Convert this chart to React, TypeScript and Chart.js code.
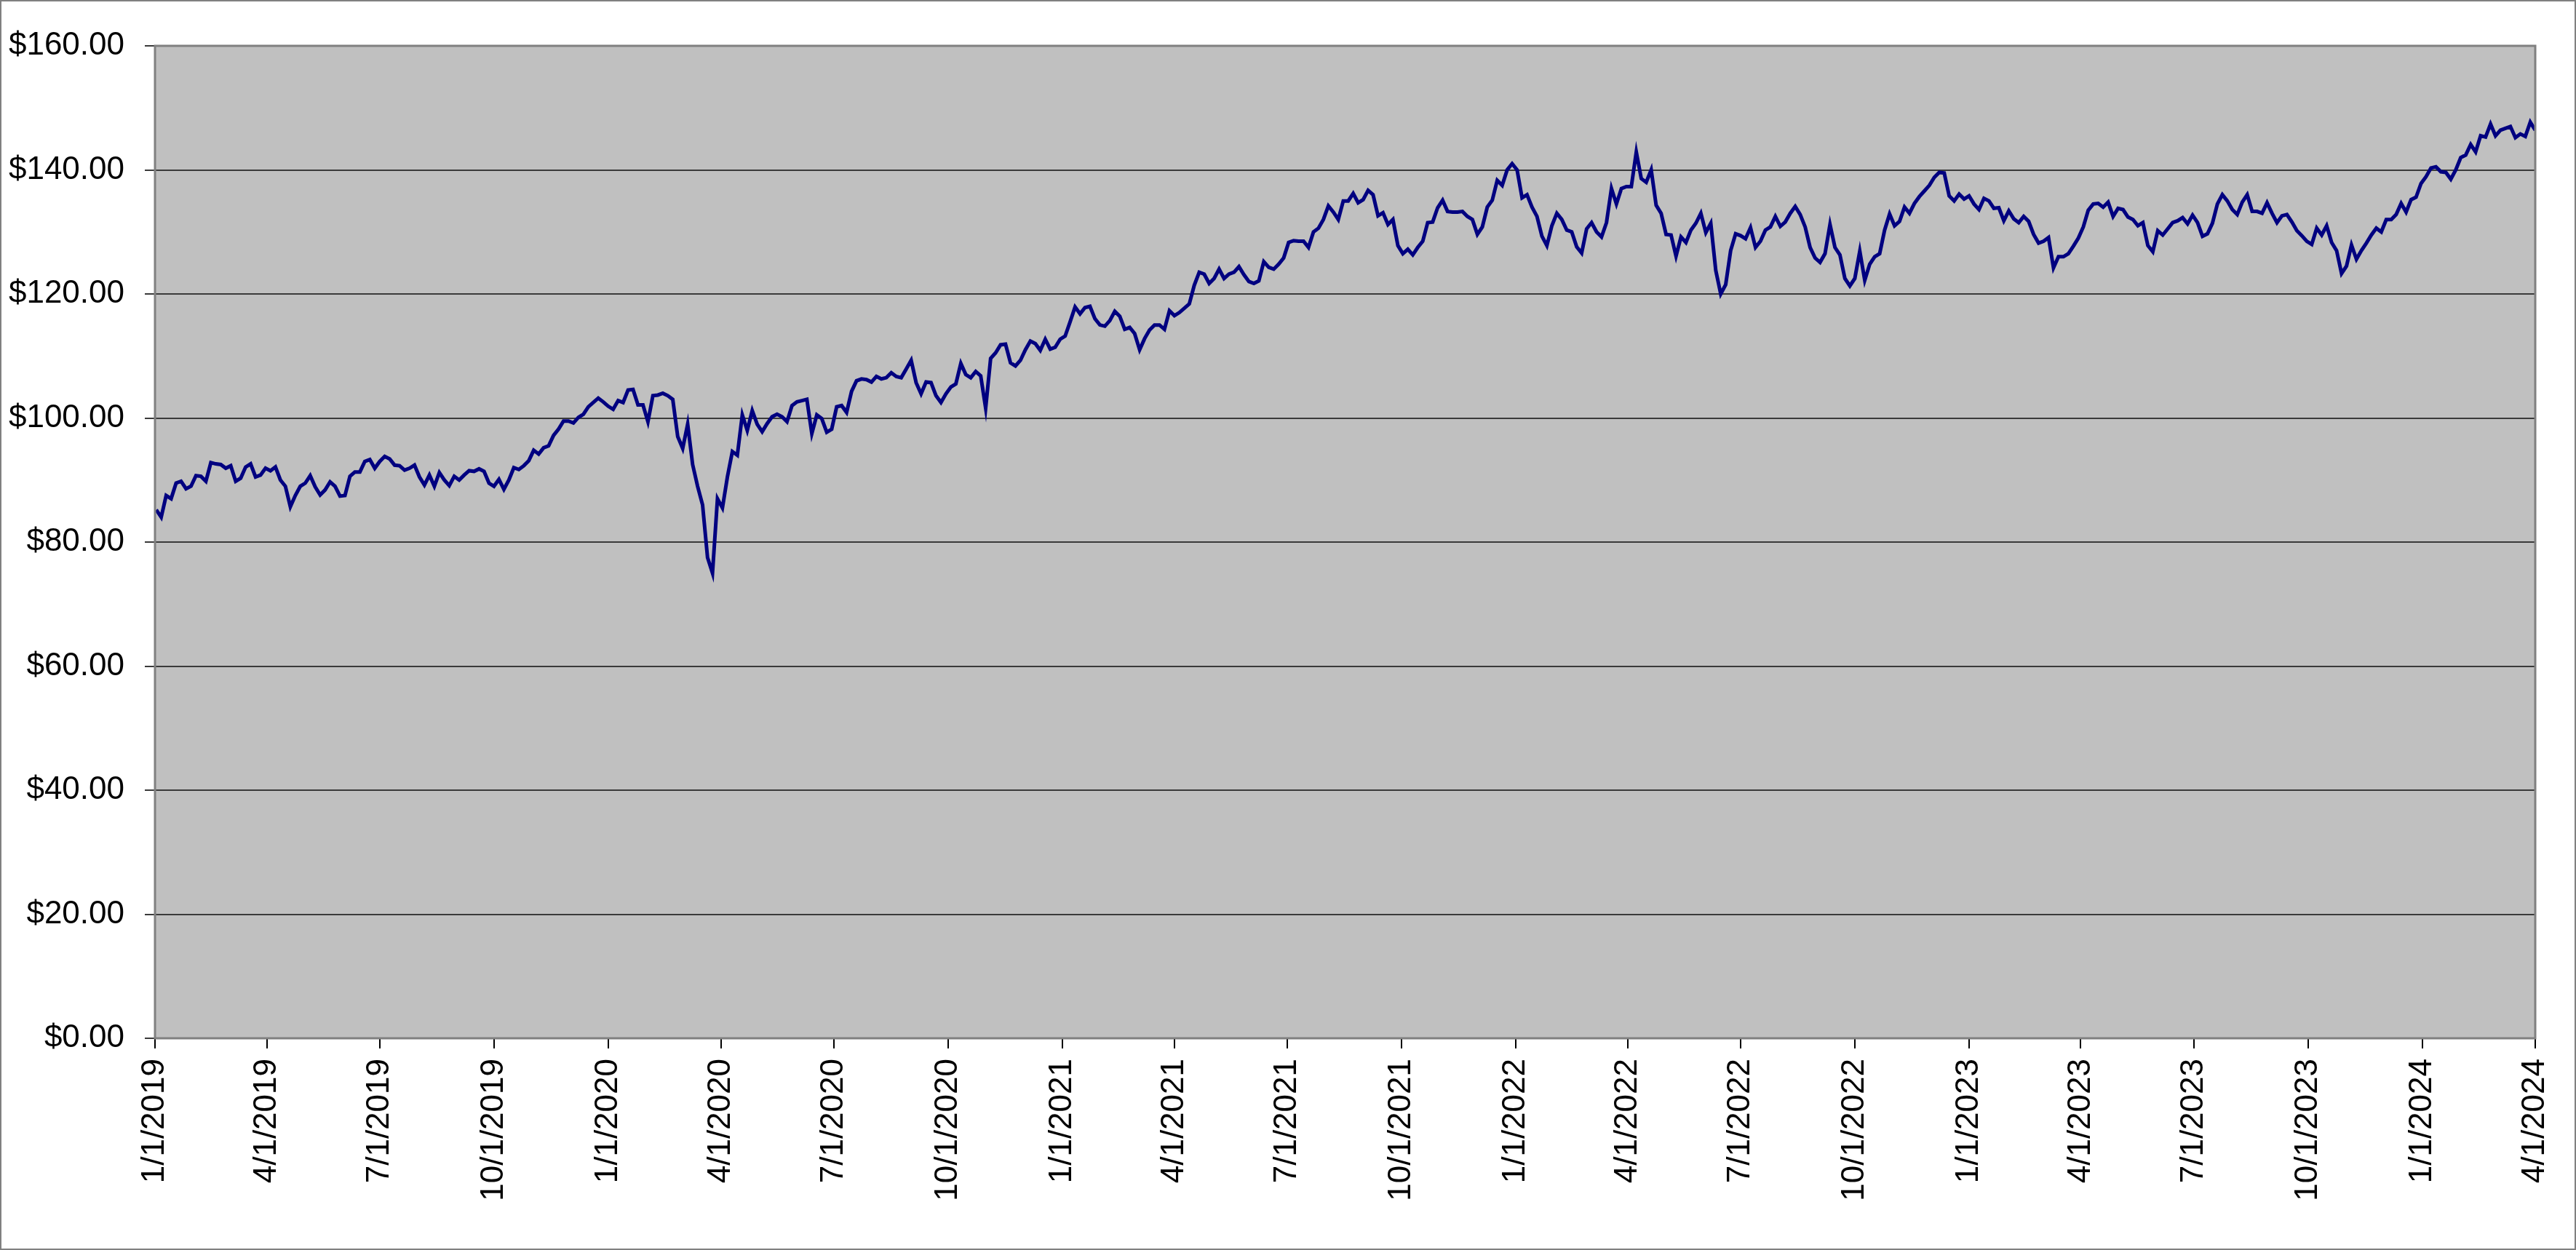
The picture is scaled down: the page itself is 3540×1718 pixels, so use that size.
import { useEffect, useRef } from "react";
import { Chart, registerables, type Plugin } from "chart.js";

Chart.register(...registerables);

// quarterly axis labels (date axis, 1/1/2019 .. 4/1/2024)
const quarterLabels = [
  "1/1/2019", "4/1/2019", "7/1/2019", "10/1/2019",
  "1/1/2020", "4/1/2020", "7/1/2020", "10/1/2020",
  "1/1/2021", "4/1/2021", "7/1/2021", "10/1/2021",
  "1/1/2022", "4/1/2022", "7/1/2022", "10/1/2022",
  "1/1/2023", "4/1/2023", "7/1/2023", "10/1/2023",
  "1/1/2024", "4/1/2024",
];

const yTicks = [0, 20, 40, 60, 80, 100, 120, 140, 160];

// closing prices, first sample 1/2/2019, one every 4 days
const firstSample = "1/2/2019";
const stepDays = 4;

const prices2019 = [
  85.2, 84, 87.5, 87, 89.5, 89.8, 88.6, 89, 90.7, 90.6,
  89.8, 92.8, 92.6, 92.5, 91.9, 92.3, 89.8, 90.3, 92.1, 92.6,
  90.5, 90.8, 91.9, 91.5, 92.1, 90, 89, 85.7, 87.5, 89,
  89.5, 90.7, 88.9, 87.6, 88.4, 89.7, 89, 87.4, 87.5, 90.6,
  91.3, 91.3, 93, 93.3, 91.9, 93, 93.8, 93.4, 92.4, 92.3,
  91.6, 91.9, 92.4, 90.5, 89.2, 90.8, 89, 91.2, 90, 89.1,
  90.6, 90, 90.8, 91.5, 91.4, 91.8, 91.4, 89.5, 89, 90.1,
  88.5, 90, 92, 91.7, 92.3, 93.1, 94.8, 94.2, 95.2, 95.5,
  97.2, 98.2, 99.5, 99.5, 99.2, 100.1, 100.6, 101.8, 102.5, 103.2,
  102.6,
];
const prices2020 = [
  101.9, 101.4, 102.8, 102.5, 104.5, 104.6, 102.1, 102.1, 99.4,
  103.6, 103.7, 104, 103.6, 103, 97, 95.1, 99, 92.5, 89,
  86, 77.5, 75, 87, 85.5, 90.5, 94.6, 94, 100.5, 98,
  101.2, 99, 97.8, 99.1, 100.2, 100.6, 100.2, 99.4, 102, 102.6,
  102.8, 103, 97.5, 100.5, 99.9, 97.7, 98.2, 101.8, 102, 100.9,
  104.3, 106, 106.3, 106.2, 105.8, 106.7, 106.3, 106.5, 107.3, 106.7,
  106.5, 107.9, 109.3, 105.7, 103.9, 105.8, 105.7, 103.6, 102.5, 103.9,
  105, 105.5, 108.8, 107, 106.5, 107.5, 106.8, 101.6, 109.6, 110.5,
  111.8, 111.9, 108.9, 108.4, 109.3, 111, 112.4, 112, 110.9, 112.7,
  111.1, 111.4, 112.7,
];
const prices2021 = [
  113.2, 115.5, 117.9, 116.8, 117.8, 118, 116, 115, 114.8, 115.7,
  117.2, 116.4, 114.3, 114.6, 113.6, 111, 112.8, 114.2, 115, 115,
  114.3, 117.3, 116.5, 117, 117.7, 118.4, 121.4, 123.5, 123.2, 121.7,
  122.5, 124, 122.5, 123.2, 123.5, 124.4, 123.1, 122, 121.7, 122.1,
  125.2, 124.3, 124, 124.8, 125.8, 128.3, 128.6, 128.5, 128.5, 127.5,
  130, 130.6, 132, 134.2, 133.2, 132, 135, 135, 136.2, 134.7,
  135.2, 136.7, 136, 132.6, 133.1, 131.2, 132, 127.8, 126.5, 127.2,
  126.3, 127.5, 128.5, 131.5, 131.6, 133.9, 135.1, 133.3, 133.2, 133.2,
  133.3, 132.5, 132, 129.6, 130.8, 134, 135.1, 138.3, 137.5, 140,
  141,
];
const prices2022 = [
  140, 135.5, 136, 134, 132.5, 129.3, 127.8, 131, 133, 132,
  130.3, 130, 127.6, 126.6, 130.5, 131.5, 130, 129.2, 131.5, 137,
  134.5, 137, 137.3, 137.3, 142.9, 138.6, 138, 140, 134.3, 133,
  129.6, 129.5, 126.1, 129.2, 128.3, 130.3, 131.4, 133, 129.9, 131.4,
  123.8, 120, 121.5, 127, 129.7, 129.4, 128.9, 130.7, 127.5, 128.5,
  130.3, 130.8, 132.5, 130.9, 131.6, 133, 134.1, 132.8, 130.8, 127.5,
  125.8, 125.1, 126.5, 131.2, 127.5, 126.3, 122.5, 121.3, 122.5, 126.9,
  122.2, 124.8, 126, 126.5, 130.3, 132.9, 131, 131.7, 134, 133,
  134.6, 135.7, 136.6, 137.5, 138.8, 139.6, 139.5, 135.8, 135, 136.1,
  135.3,
];
const prices2023 = [
  135.8, 134.5, 133.6, 135.4, 135, 133.8, 133.9, 131.8, 133.4, 132.1,
  131.5, 132.5, 131.7, 129.6, 128.2, 128.5, 129.1, 124.2, 126, 126,
  126.5, 127.7, 129, 130.8, 133.5, 134.5, 134.6, 134, 134.8, 132.5,
  133.8, 133.6, 132.4, 132, 131, 131.5, 127.8, 126.8, 130.2, 129.5,
  130.5, 131.5, 131.8, 132.3, 131.3, 132.7, 131.5, 129.3, 129.7, 131.4,
  134.5, 136, 135, 133.6, 132.8, 134.8, 136, 133.3, 133.3, 133,
  134.7, 133, 131.5, 132.6, 132.8, 131.6, 130.2, 129.4, 128.5, 128,
  130.6, 129.5, 131, 128.3, 127, 123.3, 124.5, 127.9, 125.6, 127,
  128.2, 129.5, 130.6, 130, 132, 132, 132.8, 134.6, 133.2, 135.2,
  135.6,
];
const prices2024 = [
  137.8, 138.9, 140.3, 140.5, 139.7, 139.6, 138.5, 140, 142, 142.4,
  144.1, 142.9, 145.5, 145.3, 147.4, 145.5, 146.4, 146.7, 147, 145.2,
  145.8, 145.4, 147.7, 146.4,
];

const prices = [
  ...prices2019, ...prices2020, ...prices2021,
  ...prices2022, ...prices2023, ...prices2024,
];

function dayOf(label: string) {
  const [m, d, y] = label.split("/").map(Number);
  return Math.round((Date.UTC(y, m - 1, d) - Date.UTC(2019, 0, 1)) / 86400000);
}

const tickDays = quarterLabels.map(dayOf);
const startDay = dayOf(firstSample);

// grey plot area and its frame, as in the spreadsheet chart
const plotFrame: Plugin = {
  id: "plotFrame",
  beforeDraw(chart) {
    const { ctx, chartArea: a } = chart;
    ctx.save();
    ctx.fillStyle = "#c0c0c0";
    ctx.fillRect(a.left, a.top, a.right - a.left, a.bottom - a.top);
    ctx.restore();
  },
  afterDraw(chart) {
    const { ctx, chartArea: a } = chart;
    ctx.save();
    ctx.strokeStyle = "#808080";
    ctx.lineWidth = 3;
    ctx.strokeRect(a.left, a.top, a.right - a.left, a.bottom - a.top);
    ctx.restore();
  },
};

function PriceChart() {
  const canvasRef = useRef<HTMLCanvasElement>(null);

  useEffect(() => {
    const canvas = canvasRef.current;
    if (!canvas) return;

    const font = { family: "'Liberation Sans', Arial, sans-serif", size: 44 };

    const chart = new Chart(canvas, {
      type: "line",
      data: {
        datasets: [
          {
            data: prices.map((p, i) => ({ x: startDay + i * stepDays, y: p })),
            borderColor: "#000080",
            borderWidth: 5,
            pointRadius: 0,
            tension: 0,
            fill: false,
          },
        ],
      },
      options: {
        animation: false,
        responsive: true,
        maintainAspectRatio: false,
        layout: { padding: { top: 61, right: 54, left: 0, bottom: 0 } },
        plugins: { legend: { display: false }, tooltip: { enabled: false } },
        scales: {
          x: {
            type: "linear",
            min: tickDays[0],
            max: tickDays[tickDays.length - 1],
            afterBuildTicks: (scale) => {
              scale.ticks = tickDays.map((v) => ({ value: v }));
            },
            afterFit: (scale) => {
              scale.height = 289;
              scale.paddingLeft = 0;
              scale.paddingRight = 0;
            },
            grid: {
              drawOnChartArea: false,
              drawTicks: true,
              tickLength: 14,
              color: "#000",
              lineWidth: 2,
            },
            border: { display: false },
            ticks: {
              autoSkip: false,
              minRotation: 90,
              maxRotation: 90,
              padding: 14,
              color: "#000",
              font,
              callback: (v) => quarterLabels[tickDays.indexOf(Number(v))] ?? "",
            },
          },
          y: {
            min: yTicks[0],
            max: yTicks[yTicks.length - 1],
            afterBuildTicks: (scale) => {
              scale.ticks = yTicks.map((v) => ({ value: v }));
            },
            afterFit: (scale) => {
              scale.width = 211;
            },
            grid: {
              color: "#3a3a3a",
              lineWidth: 2,
              drawTicks: true,
              tickLength: 14,
            },
            border: { display: false },
            ticks: {
              padding: 28,
              color: "#000",
              font,
              callback: (v) => "$" + Number(v).toFixed(2),
            },
          },
        },
      },
      plugins: [plotFrame],
    });

    return () => chart.destroy();
  }, []);

  return <canvas ref={canvasRef} />;
}

export default function App() {
  return (
    <div
      style={{
        position: "absolute",
        left: 0,
        top: 0,
        width: 3540,
        height: 1718,
        boxSizing: "border-box",
        border: "2px solid #808080",
        background: "#fff",
      }}
    >
      <div style={{ position: "relative", width: "100%", height: "100%" }}>
        <PriceChart />
      </div>
    </div>
  );
}
